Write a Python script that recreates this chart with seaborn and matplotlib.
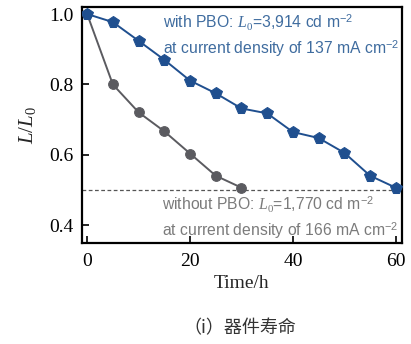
import matplotlib
matplotlib.use("Agg")
import matplotlib.pyplot as plt
import seaborn as sns
import pandas as pd

# Luminance decay data (normalized L/L0 vs. time in hours)
time_with = [0, 5, 10, 15, 20, 25, 30, 35, 40, 45, 50, 55, 60]
lum_with = [1.0, 0.977, 0.924, 0.87, 0.811, 0.775, 0.732, 0.718, 0.665, 0.648, 0.606, 0.541, 0.507]
time_without = [0, 5, 10, 15, 20, 25, 30]
lum_without = [1.0, 0.80, 0.721, 0.667, 0.604, 0.541, 0.507]
half_life_level = 0.5

x_ticks = [0, 20, 40, 60]
y_ticks = [0.4, 0.6, 0.8, 1.0]

blue = "#1f4f8f"
gray = "#5b5b60"
blue_text = "#3f6c9f"
gray_text = "#7b7b7b"

sns.set_theme(style="ticks")
plt.rcParams["font.family"] = ["Liberation Serif", "DejaVu Serif"]
plt.rcParams["mathtext.fontset"] = "custom"
plt.rcParams["mathtext.rm"] = "Liberation Serif"
plt.rcParams["mathtext.it"] = "Liberation Serif:italic"
plt.rcParams["mathtext.sf"] = "Liberation Sans"

df_with = pd.DataFrame({"t": time_with, "L": lum_with})
df_without = pd.DataFrame({"t": time_without, "L": lum_without})

fig = plt.figure(figsize=(4.11, 3.44), dpi=100)
ax = fig.add_axes([0.1995, 0.2936, 0.7785, 0.6861])

ax.axhline(half_life_level, color="#555555", lw=0.9, ls=(0, (3, 2)), zorder=1)

sns.lineplot(data=df_without, x="t", y="L", ax=ax, color=gray, lw=1.4,
             marker="o", markersize=7, markeredgecolor=gray, zorder=3)
sns.lineplot(data=df_with, x="t", y="L", ax=ax, color=blue, lw=1.4,
             marker="p", markersize=8.5, markeredgecolor=blue, zorder=4)

ax.set_xlim(-1, 61.2)
ax.set_ylim(0.35, 1.02)
ax.set_xticks(x_ticks)
ax.set_yticks(y_ticks)
ax.set_xticklabels([str(v) for v in x_ticks])
ax.set_yticklabels([f"{v:.1f}" for v in y_ticks])
ax.tick_params(direction="in", length=5, width=1.2, labelsize=14,
               colors="black")
ax.tick_params(axis="y", pad=6)
ax.tick_params(axis="x", pad=7)
for s in ax.spines.values():
    s.set_linewidth(1.6)
    s.set_color("black")
    s.set_visible(True)

ax.set_xlabel("Time/h", fontsize=14, labelpad=4)
ax.set_ylabel("$L/L_0$", fontsize=15, labelpad=8)

sans = ["Liberation Sans", "DejaVu Sans"]
ax.text(0.253, 0.933, "with PBO: $L_0$=3,914 cd m$^{\\mathsf{-2}}$",
        transform=ax.transAxes, fontsize=11.3, color=blue_text,
        family=sans, va="center", ha="left")
ax.text(0.253, 0.825, "at current density of 137 mA cm$^{\\mathsf{-2}}$",
        transform=ax.transAxes, fontsize=11.3, color=blue_text,
        family=sans, va="center", ha="left")
ax.text(0.25, 0.163, "without PBO: $L_0$=1,770 cd m$^{\\mathsf{-2}}$",
        transform=ax.transAxes, fontsize=11.3, color=gray_text,
        family=sans, va="center", ha="left")
ax.text(0.25, 0.055, "at current density of 166 mA cm$^{\\mathsf{-2}}$",
        transform=ax.transAxes, fontsize=11.3, color=gray_text,
        family=sans, va="center", ha="left")

fig.text(0.584, 0.047, "（i）器件寿命", fontsize=13, color="#333333",
         family=["Noto Sans CJK SC", "DejaVu Sans"], ha="center", va="center")

fig.savefig("out.png", dpi=100)
